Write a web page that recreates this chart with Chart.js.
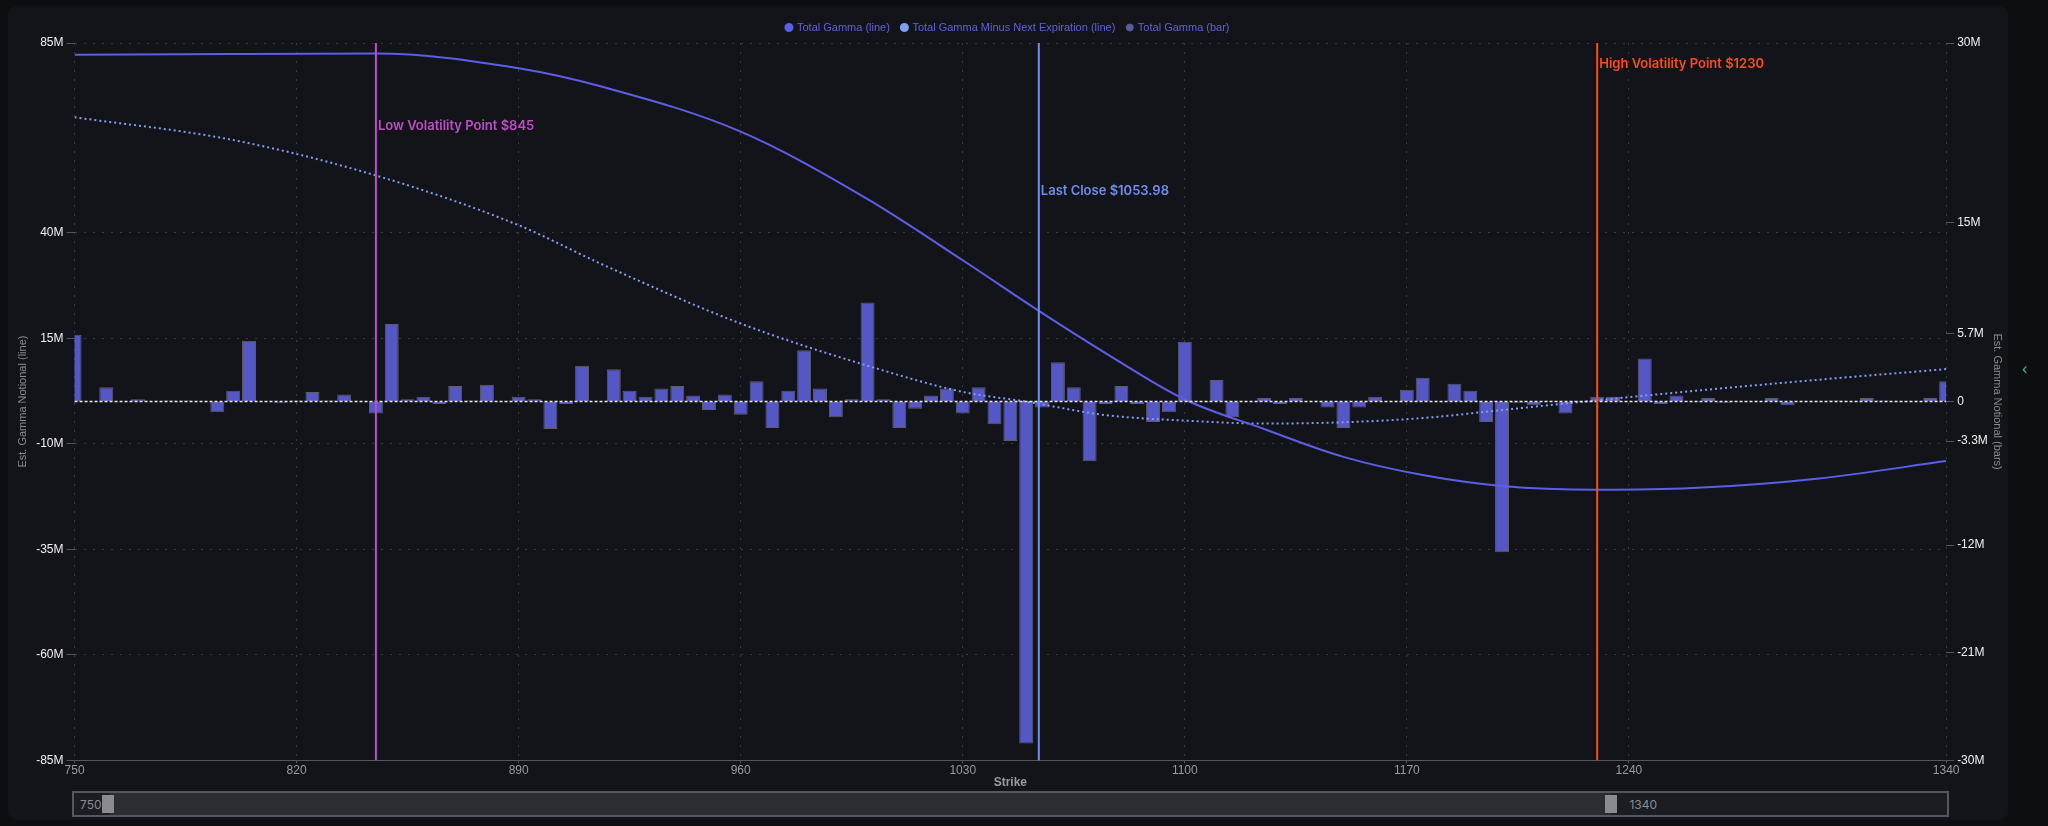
<!DOCTYPE html>
<html><head><meta charset="utf-8">
<script src="https://cdn.jsdelivr.net/npm/chart.js@4"></script>
<style>
html,body{margin:0;padding:0;background:#0d0e11;width:2048px;height:826px;overflow:hidden;font-family:Inter,"DejaVu Sans",sans-serif}
#panel{position:absolute;left:8px;top:6px;width:2000px;height:814px;background:#131419;border-radius:8px}
#wrap{position:absolute;left:0;top:0;width:1996px;height:784px}
#slider{position:absolute;left:64px;top:785px;width:1877px;height:26px;border:2px solid #55575e;background:#1c1d22;box-sizing:border-box}
#sel{position:absolute;left:36px;top:0;right:336px;height:100%;background:#2c2d32}
.h{position:absolute;top:2px;width:12px;height:18px;background:#8a8b90}
.lab{position:absolute;top:4px;color:#8a8b90;font-size:12px}
#side{position:absolute;left:2022px;top:360px;color:#2ec4a0;font-size:14px}
</style></head><body>
<div id="panel"><div id="wrap"><canvas id="c"></canvas></div>
<div id="slider"><div id="sel"></div><div class="h" style="left:28px"></div><div class="h" style="right:330px"></div>
<span class="lab" style="left:6px">750</span><span class="lab" style="right:290px">1340</span></div></div>
<div id="side">‹</div>
<script>
const strikes = [];
for (let s = 750; s <= 1340; s += 5) strikes.push(s);
const barValues = [5.6,0,1.2,0,0.2,0,0.1,0.1,0,-0.9,0.9,5.1,0,-0.1,0.1,0.8,0.1,0.6,0,-1.0,
6.5,0.2,0.4,-0.2,1.3,0.1,1.4,0,0.4,0.2,-2.3,-0.2,3.0,0,2.7,0.9,0.4,1.1,1.3,0.5,
-0.7,0.6,-1.1,1.7,-2.2,0.9,4.3,1.1,-1.3,0.2,8.3,0.2,-2.2,-0.6,0.5,1.1,-1.0,1.2,-1.9,-3.3,
-28.6,-0.5,3.3,1.2,-5.0,-0.2,1.3,-0.2,-1.7,-0.9,5.0,0,1.8,-1.3,0,0.3,-0.2,0.3,0,-0.5,
-2.2,-0.5,0.4,0,1.0,2.0,0,1.5,0.9,-1.7,-12.6,-0.1,-0.3,0,-1.0,0,0.4,0.4,0,3.6,
-0.2,0.5,0,0.3,-0.1,0,0,0.3,-0.3,0,0,0.1,0,0.3,0.1,0,0,0.3,1.7];
const lineStrikes = [750,800,845,890,917,960,1000,1030,1054,1075,1100,1125,1150,1175,1200,1230,1260,1300,1340];
const totalGamma = [82.2,82.4,82.5,79,74.5,64,48,33.5,21.5,11.5,0.5,-6.5,-13.1,-17.4,-20,-20.9,-20.5,-18.2,-14.1];
const dotStrikes = [750,800,845,890,917,960,1000,1030,1050,1075,1100,1125,1150,1175,1200,1230,1260,1300,1340];
const minusNext = [67.4,62,53.6,41.8,32.3,18.5,8.5,2.3,0,-3.2,-4.5,-5.2,-4.9,-3.9,-2,0.3,2.5,5.2,7.7];
const xTicks = [750,820,890,960,1030,1100,1170,1240,1340];
const leftTicks = [85,40,15,-10,-35,-60,-85];
const rightTicks = [30,15,5.7,0,-3.3,-12,-21,-30];
const markers = [
 {x:845, label:'Low Volatility Point $845', color:'#c04cc8', ly:120},
 {x:1053.98, label:'Last Close $1053.98', color:'#6f8ff0', ly:185},
 {x:1230, label:'High Volatility Point $1230', color:'#ff4a1a', ly:58}
];
const fmt = v => (v===0?'0':v+'M');
const overlay = {
 id:'overlay',
 afterDatasetsDraw(ch){
  const c=ch.ctx, a=ch.chartArea, xs=ch.scales.x, yr=ch.scales.yR;
  c.save();
  const z=yr.getPixelForValue(0);
  c.strokeStyle='#e8e8e8'; c.lineWidth=1.5; c.setLineDash([3,2]);
  c.beginPath(); c.moveTo(a.left,z); c.lineTo(a.right,z); c.stroke();
  c.setLineDash([]);
  markers.forEach(m=>{
   const px=xs.getPixelForValue(m.x);
   c.strokeStyle=m.color; c.lineWidth=2;
   c.beginPath(); c.moveTo(px,a.top); c.lineTo(px,a.bottom); c.stroke();
   c.fillStyle=m.color; c.font='600 13px Inter'; c.textBaseline='middle';
   c.fillText(m.label,px+2,m.ly);
  });
  c.restore();
 }
};
const gridCol='rgba(130,130,140,0.35)';
new Chart(document.getElementById('c'),{
 data:{datasets:[
  {type:'line',label:'Total Gamma (line)',data:lineStrikes.map((s,i)=>({x:s,y:totalGamma[i]})),yAxisID:'yL',
   borderColor:'#5b5fe6',backgroundColor:'#5b5fe6',borderWidth:2,pointRadius:0,cubicInterpolationMode:'monotone'},
  {type:'line',label:'Total Gamma Minus Next Expiration (line)',data:dotStrikes.map((s,i)=>({x:s,y:minusNext[i]})),yAxisID:'yL',
   borderColor:'#7f9ff5',backgroundColor:'#7f9ff5',borderWidth:2,borderDash:[2,3],pointRadius:0,cubicInterpolationMode:'monotone'},
  {type:'bar',label:'Total Gamma (bar)',data:strikes.map((s,i)=>({x:s,y:barValues[i]})),yAxisID:'yR',
   backgroundColor:'#5457c4',borderColor:'#5c5d66',borderWidth:1,barPercentage:1,categoryPercentage:0.88}
 ]},
 options:{responsive:true,maintainAspectRatio:false,animation:false,
  layout:{padding:{left:4,right:0,top:4,bottom:0}},
  plugins:{legend:{labels:{color:'#5e62d8',font:{size:11},boxWidth:5,boxHeight:5,usePointStyle:true,pointStyle:'circle',padding:12}},tooltip:{enabled:false}},
  scales:{
   x:{type:'linear',min:750,max:1340,offset:false,
    afterBuildTicks:s=>{s.ticks=xTicks.map(v=>({value:v}));},
    ticks:{color:'#9a9ba0',font:{size:12},autoSkip:false,maxRotation:0,padding:0,callback:v=>String(v)},
    grid:{color:gridCol,tickColor:'#555',offset:false,tickLength:3},
    border:{color:'#55565c',dash:[2,7]},
    title:{display:true,text:'Strike',color:'#9a9ba0',font:{size:12,weight:'600'},padding:{top:-2,bottom:0}}},
   yL:{position:'left',min:-85,max:85,
    afterBuildTicks:s=>{s.ticks=leftTicks.map(v=>({value:v}));},
    ticks:{color:'#f0f0f0',font:{size:12},callback:fmt},
    grid:{color:gridCol,tickColor:'#555'},
    border:{display:false,dash:[2,7]},
    title:{display:true,text:'Est. Gamma Notional (line)',color:'#8a8b90',font:{size:11}}},
   yR:{position:'right',min:-30,max:30,
    afterBuildTicks:s=>{s.ticks=rightTicks.map(v=>({value:v}));},
    ticks:{color:'#f0f0f0',font:{size:12},callback:fmt},
    grid:{drawOnChartArea:false,tickColor:'#555'},
    border:{display:false},
    title:{display:true,text:'Est. Gamma Notional (bars)',color:'#8a8b90',font:{size:11},padding:0}}
  }},
 plugins:[overlay]
});
</script></body></html>
